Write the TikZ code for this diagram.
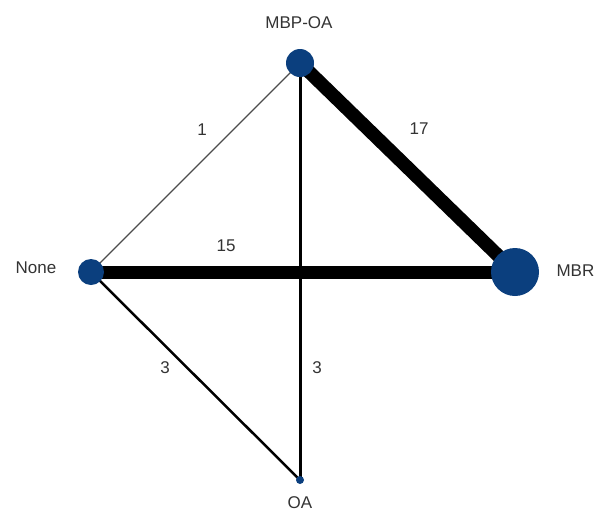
\documentclass[tikz,border=0pt]{standalone}
\usepackage{fontspec}
\setmainfont{Liberation Sans}
\definecolor{nodeblue}{HTML}{0B3F7E}
\definecolor{txtgrey}{HTML}{333333}
\begin{document}
\begin{tikzpicture}[x=1pt,y=-1pt,
  trt/.style={circle,fill=nodeblue,inner sep=0pt},
  lbl/.style={font=\fontsize{17}{19}\selectfont,text=txtgrey},
  edge/.style={black,line cap=butt}]
\clip (0,0) rectangle (594,512);
\useasboundingbox (0,0) rectangle (594,512);
\coordinate (pMBPOA) at (300,63);
\coordinate (pMBR) at (515,272);
\coordinate (pNone) at (91,272);
\coordinate (pOA) at (300,480);
\draw[edge,line width=1.3pt,black!70] (pNone) -- (pMBPOA);
\draw[edge,line width=2.5pt] (pNone) -- (pOA);
\draw[edge,line width=3pt] (pMBPOA) -- (pOA);
\draw[edge,line width=13pt] (pNone) -- (pMBR);
\draw[edge,line width=13.5pt] (pMBPOA) -- (pMBR);
\node[trt,minimum size=28pt] (MBPOA) at (pMBPOA) {};
\node[trt,minimum size=48pt] (MBR) at (pMBR) {};
\node[trt,minimum size=26pt] (None) at (pNone) {};
\node[trt,minimum size=8pt] (OA) at (pOA) {};
\node[lbl] (tMBPOA) at (299,23) {MBP-OA};
\node[lbl,anchor=west] (tMBR) at (553,271) {MBR};
\node[lbl] (tNone) at (36,268) {None};
\node[lbl] (tOA) at (300,503) {OA};
\node[lbl] (e1) at (202,130) {1};
\node[lbl] (e17) at (419,129) {17};
\node[lbl] (e15) at (226,246) {15};
\node[lbl] (e3a) at (165,368) {3};
\node[lbl] (e3b) at (317,368) {3};
\end{tikzpicture}
\end{document}
